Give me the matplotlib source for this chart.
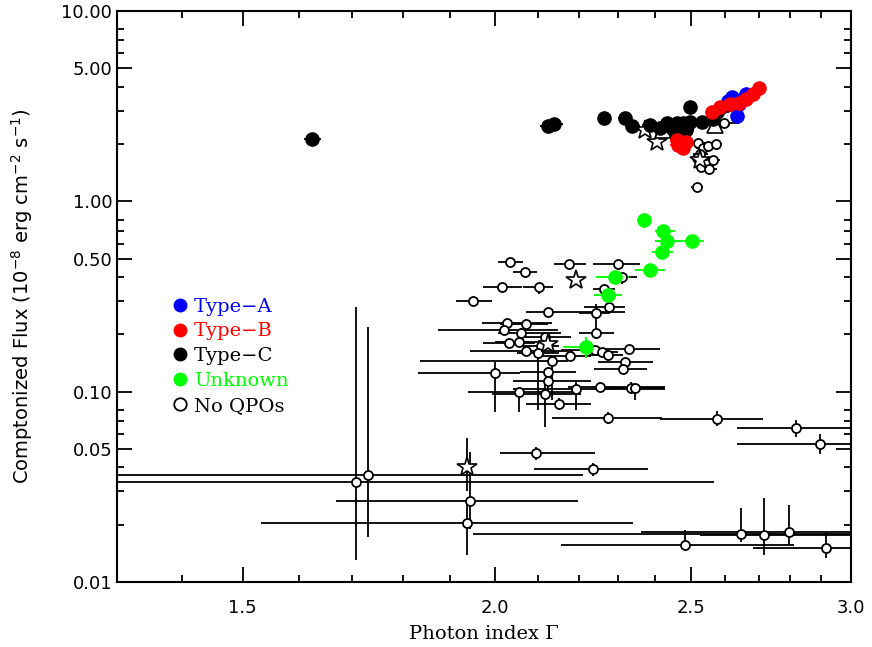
import numpy as np
import matplotlib.pyplot as plt
from matplotlib.lines import Line2D
from matplotlib.ticker import FixedLocator, NullFormatter, FixedFormatter

# Type-A QPOs
a_gam = [2.609, 2.621, 2.640, 2.636, 2.661]
a_gam_lo = [2.590, 2.600, 2.620, 2.618, 2.640]
a_gam_hi = [2.630, 2.645, 2.660, 2.655, 2.685]
a_flux = [3.37, 3.53, 3.25, 2.81, 3.66]
a_flux_lo = [3.27, 3.42, 3.15, 2.73, 3.55]
a_flux_hi = [3.47, 3.64, 3.35, 2.89, 3.77]

# Type-B QPOs
b_gam = [2.461, 2.464, 2.478, 2.486, 2.562, 2.585, 2.615, 2.640, 2.661, 2.682, 2.700]
b_gam_lo = [2.440, 2.440, 2.455, 2.465, 2.540, 2.560, 2.590, 2.615, 2.635, 2.655, 2.680]
b_gam_hi = [2.482, 2.488, 2.500, 2.508, 2.585, 2.610, 2.640, 2.668, 2.690, 2.712, 2.722]
b_flux = [2.10, 1.98, 1.91, 2.05, 2.95, 3.13, 3.25, 3.29, 3.45, 3.66, 3.94]
b_flux_lo = [2.04, 1.92, 1.85, 1.99, 2.86, 3.04, 3.15, 3.19, 3.35, 3.55, 3.82]
b_flux_hi = [2.16, 2.04, 1.97, 2.11, 3.04, 3.22, 3.35, 3.39, 3.55, 3.77, 4.06]

# Type-C QPOs
c_gam = [1.624, 2.125, 2.140, 2.265, 2.318, 2.338, 2.386, 2.414, 2.433, 2.447, 2.461, 2.467,
         2.478, 2.486, 2.461, 2.497, 2.497, 2.532, 2.565, 2.574, 2.585, 2.606, 2.624]
c_gam_lo = [1.608, 2.105, 2.120, 2.250, 2.300, 2.320, 2.365, 2.395, 2.410, 2.425, 2.440, 2.445,
            2.455, 2.465, 2.440, 2.480, 2.475, 2.510, 2.545, 2.555, 2.565, 2.585, 2.600]
c_gam_hi = [1.640, 2.148, 2.162, 2.282, 2.336, 2.358, 2.405, 2.435, 2.455, 2.470, 2.482, 2.490,
            2.500, 2.508, 2.482, 2.515, 2.520, 2.555, 2.585, 2.595, 2.605, 2.628, 2.648]
c_flux = [2.13, 2.50, 2.55, 2.74, 2.74, 2.49, 2.52, 2.43, 2.58, 2.43, 2.58, 2.23,
          2.58, 2.37, 2.29, 3.13, 2.61, 2.61, 2.71, 2.95, 3.09, 3.21, 3.29]
c_flux_lo = [2.06, 2.43, 2.48, 2.66, 2.66, 2.42, 2.45, 2.36, 2.50, 2.36, 2.50, 2.16,
             2.50, 2.30, 2.22, 3.04, 2.53, 2.53, 2.63, 2.86, 3.00, 3.11, 3.19]
c_flux_hi = [2.20, 2.57, 2.62, 2.82, 2.82, 2.56, 2.59, 2.50, 2.66, 2.50, 2.66, 2.30,
             2.66, 2.44, 2.36, 3.22, 2.69, 2.69, 2.79, 3.04, 3.18, 3.31, 3.39]

# Unknown type
u_gam = [2.370, 2.422, 2.433, 2.503, 2.419, 2.386, 2.293, 2.275, 2.218]
u_gam_lo = [2.350, 2.400, 2.400, 2.400, 2.392, 2.345, 2.243, 2.238, 2.160]
u_gam_hi = [2.390, 2.455, 2.470, 2.537, 2.450, 2.428, 2.330, 2.310, 2.250]
u_flux = [0.797, 0.698, 0.619, 0.619, 0.542, 0.435, 0.400, 0.322, 0.172]
u_flux_lo = [0.775, 0.675, 0.600, 0.590, 0.525, 0.420, 0.385, 0.310, 0.150]
u_flux_hi = [0.820, 0.720, 0.640, 0.650, 0.560, 0.450, 0.415, 0.335, 0.194]

# no QPOs
n_gam = [2.597, 2.521, 2.535, 2.550, 2.571, 2.527, 2.565, 2.530, 2.553, 2.518, 2.518,
         2.035, 2.070, 2.175, 2.300, 2.311, 2.016, 2.103, 2.263, 1.951, 2.125, 2.243, 2.278,
         2.028, 2.072, 2.021, 2.061, 2.116, 2.243, 2.033, 2.056, 2.108, 2.072, 2.100, 2.178,
         2.240, 2.260, 2.275, 2.330, 2.135, 2.320, 2.314, 2.000, 2.125, 2.125, 2.056, 2.118,
         2.193, 2.253, 2.335, 2.346, 2.150, 2.275, 2.574, 2.819, 2.897, 2.095, 2.235, 1.706,
         1.730, 1.944, 1.938, 2.483, 2.648, 2.716, 2.797, 2.916]
n_gam_lo = [2.585, 2.500, 2.515, 2.530, 2.550, 2.505, 2.545, 2.510, 2.535, 2.500, 2.500,
            2.007, 2.042, 2.138, 2.235, 2.280, 1.973, 2.065, 2.235, 1.913, 2.072, 2.200, 2.2125,
            1.971, 2.012, 1.874, 2.007, 2.070, 2.200, 1.973, 2.000, 2.065, 1.944, 2.050, 2.100,
            2.155, 2.220, 2.225, 2.255, 1.837, 2.2475, 2.2375, 1.832, 2.058, 2.042, 1.940, 1.993,
            2.042, 2.1725, 2.255, 2.300, 2.072, 2.135, 2.414, 2.636, 2.636, 2.012, 2.091, 1.250,
            1.250, 1.6685, 1.532, 2.155, 1.951, 2.526, 2.363, 2.684]
n_gam_hi = [2.640, 2.545, 2.555, 2.570, 2.590, 2.550, 2.585, 2.550, 2.575, 2.540, 2.535,
            2.065, 2.098, 2.2175, 2.359, 2.351, 2.063, 2.1375, 2.2925, 1.993, 2.319, 2.280, 2.319,
            2.135, 2.125, 2.1475, 2.155, 2.180, 2.290, 2.093, 2.125, 2.150, 2.185, 2.150, 2.230,
            2.255, 2.300, 2.3135, 2.414, 2.1725, 2.395, 2.378, 2.058, 2.1925, 2.230, 2.1975, 2.205,
            2.428, 2.428, 2.428, 2.428, 2.230, 2.420, 2.7125, 3.100, 3.100, 2.240, 2.380, 2.5676,
            2.210, 2.1975, 2.3405, 2.810, 3.100, 3.100, 3.100, 3.100]
n_flux = [2.58, 2.02, 1.91, 1.95, 1.99, 1.77, 1.65, 1.51, 1.48, 1.68, 1.19,
          0.480, 0.425, 0.468, 0.468, 0.400, 0.354, 0.354, 0.346, 0.299, 0.262, 0.259, 0.278,
          0.229, 0.2265, 0.2108, 0.2032, 0.1936, 0.2032, 0.180, 0.1823, 0.1736, 0.1634, 0.1595, 0.1538,
          0.1654, 0.1614, 0.1557, 0.1675, 0.1448, 0.143, 0.1315, 0.1252, 0.1267, 0.1137, 0.0995, 0.0971,
          0.1032, 0.1057, 0.1044, 0.1044, 0.0861, 0.0726, 0.0718, 0.0644, 0.0531, 0.0476, 0.0392, 0.0335,
          0.0364, 0.0266, 0.0204, 0.0156, 0.0178, 0.0176, 0.0183, 0.0151]
n_flux_lo = [2.52, 1.97, 1.86, 1.90, 1.94, 1.72, 1.60, 1.47, 1.44, 1.63, 1.16,
             0.46, 0.41, 0.45, 0.45, 0.37, 0.34, 0.325, 0.33, 0.285, 0.25, 0.23, 0.265,
             0.22, 0.215, 0.20, 0.195, 0.185, 0.19, 0.17, 0.172, 0.165, 0.155, 0.080, 0.146,
             0.157, 0.153, 0.145, 0.16, 0.090, 0.136, 0.124, 0.078, 0.12, 0.094, 0.078, 0.065,
             0.080, 0.100, 0.097, 0.090, 0.080, 0.068, 0.066, 0.058, 0.047, 0.044, 0.036, 0.013,
             0.0172, 0.019, 0.0138, 0.0147, 0.0162, 0.0138, 0.0156, 0.0134]
n_flux_hi = [2.64, 2.07, 1.96, 2.00, 2.04, 1.82, 1.70, 1.55, 1.52, 1.73, 1.22,
             0.50, 0.44, 0.49, 0.49, 0.42, 0.37, 0.37, 0.36, 0.315, 0.275, 0.29, 0.29,
             0.24, 0.24, 0.22, 0.215, 0.205, 0.23, 0.19, 0.192, 0.183, 0.172, 0.168, 0.162,
             0.174, 0.17, 0.165, 0.176, 0.155, 0.15, 0.14, 0.144, 0.135, 0.12, 0.104, 0.115,
             0.115, 0.112, 0.112, 0.11, 0.093, 0.078, 0.079, 0.071, 0.060, 0.051, 0.042, 0.278,
             0.2185, 0.048, 0.027, 0.0187, 0.0245, 0.0276, 0.0254, 0.0181]

# stars and triangles (no legend entry)
s_gam = [2.373, 2.406, 2.527, 2.192, 2.125, 1.938]
s_gam_lo = [2.360, 2.390, 2.510, 2.180, 2.110, 1.930]
s_gam_hi = [2.390, 2.420, 2.545, 2.205, 2.140, 1.945]
s_flux = [2.37, 2.05, 1.65, 0.386, 0.178, 0.0402]
s_flux_lo = [2.30, 1.99, 1.60, 0.375, 0.172, 0.030]
s_flux_hi = [2.44, 2.11, 1.70, 0.397, 0.184, 0.057]

t_gam = [2.422, 2.568]
t_gam_lo = [2.405, 2.527]
t_gam_hi = [2.445, 2.615]
t_flux = [2.37, 2.52]
t_flux_lo = [2.30, 2.45]
t_flux_hi = [2.44, 2.59]

yticks = [0.01, 0.05, 0.1, 0.5, 1, 5, 10]
ytick_labels = ['0.01', '0.05', '0.10', '0.50', '1.00', '5.00', '10.00']
xticks = [1.5, 2.0, 2.5, 3.0]
xtick_labels = ['1.5', '2.0', '2.5', '3.0']

LIME = '#00ff00'


def err(v, lo, hi):
    v = np.array(v)
    return [v - np.array(lo), np.array(hi) - v]


fig = plt.figure(figsize=(8.72, 6.47), dpi=100)
ax = fig.add_axes([0.1342, 0.1005, 0.8417, 0.8825])
ax.set_xscale('log')
ax.set_yscale('log')

# error bars first
ax.errorbar(n_gam, n_flux, xerr=err(n_gam, n_gam_lo, n_gam_hi), yerr=err(n_flux, n_flux_lo, n_flux_hi),
            fmt='none', ecolor='black', elinewidth=1.3, capsize=0, zorder=2)
ax.errorbar(s_gam, s_flux, xerr=err(s_gam, s_gam_lo, s_gam_hi), yerr=err(s_flux, s_flux_lo, s_flux_hi),
            fmt='none', ecolor='black', elinewidth=1.3, capsize=0, zorder=2)
ax.errorbar(t_gam, t_flux, xerr=err(t_gam, t_gam_lo, t_gam_hi), yerr=err(t_flux, t_flux_lo, t_flux_hi),
            fmt='none', ecolor='black', elinewidth=1.3, capsize=0, zorder=2)
ax.errorbar(c_gam, c_flux, xerr=err(c_gam, c_gam_lo, c_gam_hi), yerr=err(c_flux, c_flux_lo, c_flux_hi),
            fmt='none', ecolor='black', elinewidth=1.3, capsize=0, zorder=2)
ax.errorbar(u_gam, u_flux, xerr=err(u_gam, u_gam_lo, u_gam_hi), yerr=err(u_flux, u_flux_lo, u_flux_hi),
            fmt='none', ecolor=LIME, elinewidth=1.3, capsize=0, zorder=2)
ax.errorbar(a_gam, a_flux, xerr=err(a_gam, a_gam_lo, a_gam_hi), yerr=err(a_flux, a_flux_lo, a_flux_hi),
            fmt='none', ecolor='blue', elinewidth=1.3, capsize=0, zorder=2)
ax.errorbar(b_gam, b_flux, xerr=err(b_gam, b_gam_lo, b_gam_hi), yerr=err(b_flux, b_flux_lo, b_flux_hi),
            fmt='none', ecolor='red', elinewidth=1.3, capsize=0, zorder=2)

# markers
ax.plot(n_gam, n_flux, 'o', ms=6.5, mfc='white', mec='black', mew=1.3, ls='none', zorder=3)
ax.plot(s_gam, s_flux, '*', ms=15, mfc='white', mec='black', mew=1.2, ls='none', zorder=3)
ax.plot(t_gam, t_flux, '^', ms=12, mfc='white', mec='black', mew=1.2, ls='none', zorder=3)
ax.plot(c_gam, c_flux, 'o', ms=9.5, color='black', ls='none', zorder=4)
ax.plot(u_gam, u_flux, 'o', ms=9.5, color=LIME, ls='none', zorder=4)
ax.plot(a_gam, a_flux, 'o', ms=9.5, color='blue', ls='none', zorder=5)
ax.plot(b_gam, b_flux, 'o', ms=9.5, color='red', ls='none', zorder=5)

ax.set_xlim(1.3, 3.0)
ax.set_ylim(0.01, 10)

ax.xaxis.set_major_locator(FixedLocator(xticks))
ax.xaxis.set_major_formatter(FixedFormatter(xtick_labels))
ax.xaxis.set_minor_locator(FixedLocator(np.arange(1.3, 3.0, 0.1)))
ax.xaxis.set_minor_formatter(NullFormatter())
ax.yaxis.set_major_locator(FixedLocator(yticks))
ax.yaxis.set_major_formatter(FixedFormatter(ytick_labels))
ymin = [d * k for d in [0.01, 0.1, 1] for k in [2, 3, 4, 6, 7, 8]]
ax.yaxis.set_minor_locator(FixedLocator(ymin))
ax.yaxis.set_minor_formatter(NullFormatter())

ax.tick_params(which='both', direction='in', top=True, right=True, width=1.3, labelsize=13)
ax.tick_params(which='major', length=11)
ax.tick_params(which='minor', length=5)
ax.tick_params(axis='x', pad=12)
for sp in ax.spines.values():
    sp.set_linewidth(1.5)

ax.set_xlabel('Photon index Γ', fontsize=14, family='DejaVu Serif', labelpad=6)
ax.set_ylabel('Comptonized Flux (10$^{-8}$ erg cm$^{-2}$ s$^{-1}$)', fontsize=14, labelpad=19)

handles = [Line2D([], [], marker='o', ls='none', color='blue', ms=9),
           Line2D([], [], marker='o', ls='none', color='red', ms=9),
           Line2D([], [], marker='o', ls='none', color='black', ms=9),
           Line2D([], [], marker='o', ls='none', color=LIME, ms=9),
           Line2D([], [], marker='o', ls='none', mfc='white', mec='black', mew=1.3, ms=9)]
labels = ['Type\u2212A', 'Type\u2212B', 'Type\u2212C', 'Unknown', 'No QPOs']
ax.legend(handles, labels, loc='upper left', bbox_to_anchor=(0.065, 0.515), frameon=False,
          handlelength=0.6, handletextpad=0.4, labelspacing=0.35, borderpad=0,
          prop={'family': 'DejaVu Serif', 'size': 14},
          labelcolor=['blue', 'red', 'black', LIME, 'black'])

fig.savefig('out.png', dpi=100)
